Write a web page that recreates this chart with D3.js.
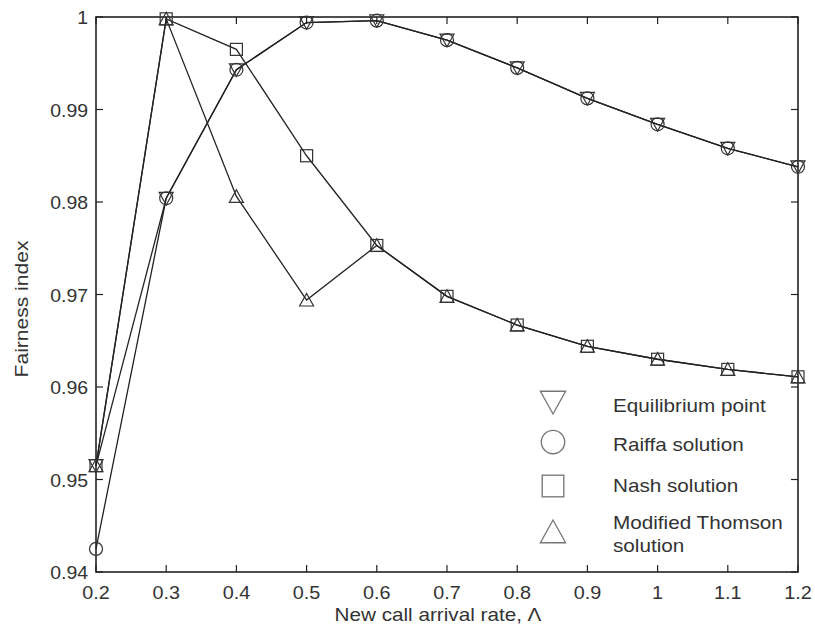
<!DOCTYPE html>
<html>
<head>
<meta charset="utf-8">
<script src="https://cdn.jsdelivr.net/npm/d3@7"></script>
<style>
body { margin:0; background:#fff; }
text { font-family: "Liberation Sans", Arial, sans-serif; }
</style>
</head>
<body>
<div id="chart"></div>
<script>
// x values (new call arrival rate)
var rates = [0.2,0.3,0.4,0.5,0.6,0.7,0.8,0.9,1.0,1.1,1.2];

var equilibrium = [0.9515,0.9804,0.9943,0.9994,0.9996,0.9975,0.9945,0.9912,0.9884,0.9858,0.9838];
var raiffa      = [0.9425,0.9804,0.9943,0.9994,0.9996,0.9975,0.9945,0.9912,0.9884,0.9858,0.9838];
var nash        = [0.9515,0.9998,0.9965,0.9850,0.9753,0.9698,0.9667,0.9644,0.9630,0.9619,0.9611];
var thomson     = [0.9515,0.9998,0.9806,0.9694,0.9753,0.9698,0.9667,0.9644,0.9630,0.9619,0.9611];

var xTicks = [0.2,0.3,0.4,0.5,0.6,0.7,0.8,0.9,1,1.1,1.2];
var yTicks = [0.94,0.95,0.96,0.97,0.98,0.99,1];

var seriesNames = ["Equilibrium point","Raiffa solution","Nash solution","Modified Thomson"];

var W = 815, H = 632;
var L = 96, R = 798, T = 17, B = 572;

var svg = d3.select("#chart").append("svg")
    .attr("width", W)
    .attr("height", H);

var x = d3.scaleLinear().domain([0.2,1.2]).range([L,R]);
var y = d3.scaleLinear().domain([0.94,1.0]).range([B,T]);

// text a bit wider than the font, like the scanned figure
function label(parent, px, py, str, anchor, size, sx, rot) {
    var g = parent.append("g")
        .attr("transform","translate("+px+","+py+")"+(rot ? " rotate("+rot+")" : "")+" scale("+sx+",1)");
    g.append("text").attr("text-anchor",anchor).attr("font-size",size).attr("fill","#333").text(str);
    return g;
}

// marker shapes
function marker(type, g) {
    var s = 7;
    if (type == "down") {
        g.append("path").attr("d", "M"+(-s)+","+(-s*0.85)+"L"+s+","+(-s*0.85)+"L0,"+(s*0.95)+"Z");
    } else if (type == "up") {
        g.append("path").attr("d", "M"+(-s)+","+(s*0.85)+"L"+s+","+(s*0.85)+"L0,"+(-s*0.95)+"Z");
    } else if (type == "circle") {
        g.append("circle").attr("r", 6.5);
    } else {
        g.append("rect").attr("x",-6).attr("y",-6).attr("width",12).attr("height",12);
    }
}

// frame
var frame = svg.append("g");
frame.append("rect")
    .attr("x", L).attr("y", T).attr("width", R-L).attr("height", B-T)
    .attr("fill","none").attr("stroke","#222").attr("stroke-width",1.6);

// ticks (inside, mirrored)
xTicks.forEach(function(t){
    frame.append("line").attr("x1",x(t)).attr("x2",x(t)).attr("y1",B).attr("y2",B-7)
        .attr("stroke","#222").attr("stroke-width",1.2);
    frame.append("line").attr("x1",x(t)).attr("x2",x(t)).attr("y1",T).attr("y2",T+7)
        .attr("stroke","#222").attr("stroke-width",1.2);
    label(frame, x(t), B+27, d3.format("")(t), "middle", 18, 1.1);
});
yTicks.forEach(function(t){
    frame.append("line").attr("x1",L).attr("x2",L+7).attr("y1",y(t)).attr("y2",y(t))
        .attr("stroke","#222").attr("stroke-width",1.2);
    frame.append("line").attr("x1",R).attr("x2",R-7).attr("y1",y(t)).attr("y2",y(t))
        .attr("stroke","#222").attr("stroke-width",1.2);
    label(frame, L-8, y(t)+7, t == 1 ? "1" : d3.format(".2f")(t), "end", 18, 1.08);
});

label(svg, 438, 621, "New call arrival rate, \u039B", "middle", 18, 1.15);
label(svg, 28, 309, "Fairness index", "middle", 18, 1.17, -90);

var series = [
    {vals: equilibrium, m: "down"},
    {vals: raiffa, m: "circle"},
    {vals: nash, m: "square"},
    {vals: thomson, m: "up"}
];

var line = d3.line()
    .x(function(d,i){ return x(rates[i]); })
    .y(function(d){ return y(d); });

series.forEach(function(s){
    svg.append("path").datum(s.vals)
        .attr("d", line)
        .attr("fill","none").attr("stroke","#222").attr("stroke-width",1.3);
});

series.forEach(function(s){
    var pts = svg.append("g").selectAll(".pt")
        .data(s.vals).enter().append("g")
        .attr("transform", function(d,i){ return "translate("+x(rates[i])+","+y(d)+")"; })
        .attr("fill","none").attr("stroke","#333").attr("stroke-width",1.2);
    pts.each(function(){ marker(s.m, d3.select(this)); });
});

// legend
var legY = [402, 442, 486, 532];
var legTypes = ["down","circle","square","up"];
var leg = svg.append("g");
legTypes.forEach(function(m,i){
    var g = leg.append("g").attr("transform","translate(553,"+legY[i]+") scale(1.8)")
        .attr("fill","none").attr("stroke","#777").attr("stroke-width",0.75);
    marker(m, g);
});
label(leg, 613, 412, seriesNames[0], "start", 18, 1.15);
label(leg, 613, 451, seriesNames[1], "start", 18, 1.15);
label(leg, 613, 492, seriesNames[2], "start", 18, 1.15);
label(leg, 613, 529, seriesNames[3], "start", 18, 1.15);
label(leg, 613, 552, "solution", "start", 18, 1.15);
</script>
</body>
</html>
